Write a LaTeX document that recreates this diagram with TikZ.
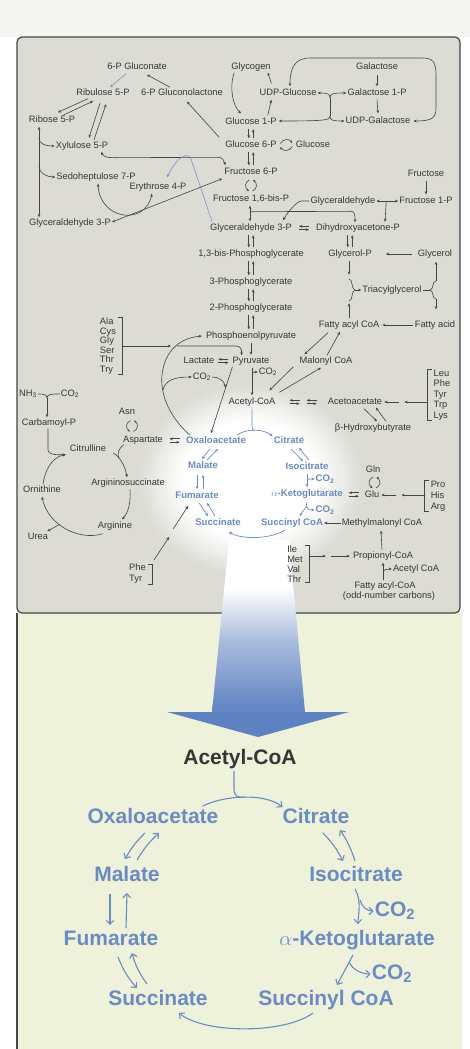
\documentclass[tikz,border=0pt]{standalone}
\usepackage{fontspec}
\setmainfont{Liberation Sans}
\usetikzlibrary{arrows.meta,calc}
\definecolor{panel}{HTML}{DCDCD5}
\definecolor{lowpanel}{HTML}{EEF2DB}
\definecolor{topband}{HTML}{F5F5F1}
\definecolor{txt}{HTML}{363636}
\definecolor{ln}{HTML}{454545}
\definecolor{tcablue}{HTML}{6C8BC3}
\definecolor{pentose}{HTML}{8A8CC4}
\definecolor{beamdark}{HTML}{6687C4}
\definecolor{arrowblue}{HTML}{5E81C1}
\colorlet{beammid}{beamdark!55!white}
\pgfdeclareradialshading{glowshade}{\pgfpoint{0bp}{0bp}}{color(0bp)=(white); color(15bp)=(white); color(25bp)=(panel); color(50bp)=(panel)}
\pgfdeclareverticalshading{beamshade}{100bp}{color(0bp)=(beamdark); color(27bp)=(beamdark); color(46bp)=(beammid); color(61bp)=(white); color(100bp)=(white)}

% pair of opposite vertical arrows between two stacked nodes
\newcommand\udpair[2]{%
  \draw[arr] ($(#2.north |- #1.south)+(-2.2,1.5)$) -- ($(#2.north)+(-2.2,-1)$);
  \draw[arr] ($(#2.north)+(2.2,-1)$) -- ($(#2.north |- #1.south)+(2.2,1.5)$);}
% pair of opposite horizontal arrows around a named coordinate
\newcommand\harpat[1]{%
  \draw[arr] ($(#1)+(5,-1.7)$) -- ($(#1)+(-5,-1.7)$);
  \draw[arr] ($(#1)+(-5,1.7)$) -- ($(#1)+(5,1.7)$);}
% curled reversible arrows, vertical and horizontal
\newcommand\vcurly[1]{%
  \draw[arrc] ($(#1)+(-1.5,-5.5)$) .. controls ($(#1)+(-6.5,-3)$) and ($(#1)+(-6.5,2)$) .. ($(#1)+(-2,5.5)$);
  \draw[arrc] ($(#1)+(1.5,5.5)$) .. controls ($(#1)+(6.5,3)$) and ($(#1)+(6.5,-2)$) .. ($(#1)+(2,-5.5)$);}
\newcommand\hcurly[1]{%
  \draw[arrc] ($(#1)+(-6,-1.5)$) .. controls ($(#1)+(-3,-6.5)$) and ($(#1)+(3,-6.5)$) .. ($(#1)+(6,-2)$);
  \draw[arrc] ($(#1)+(6,1.5)$) .. controls ($(#1)+(3,6.5)$) and ($(#1)+(-3,6.5)$) .. ($(#1)+(-6,2)$);}

\begin{document}
\begin{tikzpicture}[x=1pt,y=-1pt,
  lbl/.style={font=\fontsize{9.3}{10}\selectfont, text=txt, inner sep=1pt, text height=7pt, text depth=2pt},
  lst/.style={font=\fontsize{9.3}{#1}\selectfont, text=txt, inner sep=1pt, align=left},
  tcat/.style={font=\bfseries\fontsize{9.6}{11}\selectfont, text=tcablue, inner sep=1pt, text height=7.2pt, text depth=2.2pt},
  tcab/.style={font=\bfseries\fontsize{21}{24}\selectfont, text=tcablue, inner sep=1pt, text height=15pt, text depth=4.5pt},
  bigk/.style={tcab, text=txt},
  ln0/.style={draw=ln, line width=0.62pt},
  arr/.style={ln0, -{Stealth[length=3.2pt,width=2.8pt]}},
  dbl/.style={ln0, {Stealth[length=3.2pt,width=2.8pt]}-{Stealth[length=3.2pt,width=2.8pt]}},
  arrc/.style={ln0, -{Stealth[length=2.6pt,width=2.4pt]}},
  tln/.style={draw=tcablue, line width=0.68pt},
  tarr/.style={tln, -{Stealth[length=3.2pt,width=2.8pt]}},
  bln/.style={draw=tcablue, line width=1.1pt},
  barr/.style={bln, -{Straight Barb[length=4pt,width=7.5pt]}}]
\useasboundingbox (0,0) rectangle (470,1049);

% ---------- backgrounds ----------
\fill[white] (0,0) rectangle (470,1049);
\fill[topband] (0,0) rectangle (470,37);
\fill[lowpanel] (17,612) rectangle (462,1049);
\filldraw[fill=panel, draw=ln, line width=1.2pt, rounded corners=5pt] (17,37) rectangle (460,613);
\draw[ln, line width=1.2pt] (17,613) -- (17,1049);
\shade[shading=glowshade] (250,480) ellipse [x radius=112pt, y radius=96pt];
\shade[shading=beamshade] (229,540) -- (289,540) -- (305,712) -- (212,712) -- cycle;
\fill[arrowblue] (167,712) -- (349,712) -- (258,737) -- cycle;

% ---------- metabolites ----------
\node[lbl] (gluconate) at (137,67) {6-P Gluconate};
\node[lbl] (ribulose) at (103,93) {Ribulose 5-P};
\node[lbl] (lactone) at (182,93) {6-P Gluconolactone};
\node[lbl] (ribose) at (52,120) {Ribose 5-P};
\node[lbl] (xylulose) at (82,146) {Xylulose 5-P};
\node[lbl] (sedo) at (96,177) {Sedoheptulose 7-P};
\node[lbl] (erythrose) at (158,187) {Erythrose 4-P};
\node[lbl] (ga3pL) at (70,223) {Glyceraldehyde 3-P};
\node[lbl] (glycogen) at (251,67) {Glycogen};
\node[lbl] (udpglc) at (288,93) {UDP-Glucose};
\node[lbl] (galactose) at (377,67) {Galactose};
\node[lbl] (gal1p) at (377,93) {Galactose 1-P};
\node[lbl] (g1p) at (251,122) {Glucose 1-P};
\node[lbl] (udpgal) at (378,121) {UDP-Galactose};
\node[lbl] (g6p) at (251,145) {Glucose 6-P};
\node[lbl] (glucose) at (313,145) {Glucose};
\node[lbl] (f6p) at (251,172) {Fructose 6-P};
\node[lbl] (f16bp) at (251,199) {Fructose 1,6-bis-P};
\node[lbl] (glyald) at (343,201) {Glyceraldehyde};
\node[lbl] (f1p) at (426,201) {Fructose 1-P};
\node[lbl] (fructose) at (426,174) {Fructose};
\node[lbl] (ga3p) at (251,228) {Glyceraldehyde 3-P};
\node[lbl] (dhap) at (358,228) {Dihydroxyacetone-P};
\node[lbl] (bpg) at (251,254) {1,3-bis-Phosphoglycerate};
\node[lbl] (glycp) at (350,254) {Glycerol-P};
\node[lbl] (glycerol) at (435,254) {Glycerol};
\node[lbl] (pg3) at (251,282) {3-Phosphoglycerate};
\node[lbl] (tag) at (392,290) {Triacylglycerol};
\node[lbl] (pg2) at (251,308) {2-Phosphoglycerate};
\node[lbl] (pep) at (251,336) {Phosphoenolpyruvate};
\node[lbl] (facoa) at (349,325) {Fatty acyl CoA};
\node[lbl] (fa) at (435,325) {Fatty acid};
\node[lbl] (pyr) at (251,361) {Pyruvate};
\node[lbl] (lac) at (199,361) {Lactate};
\node[lbl] (malcoa) at (326,361) {Malonyl CoA};
\node[lbl] (co2a) at (268,372) {CO\textsubscript{2}};
\node[lbl] (co2b) at (202,377) {CO\textsubscript{2}};
\node[lbl] (accoa) at (252,402) {Acetyl-CoA};
\node[lbl] (acac) at (355,402) {Acetoacetate};
\node[lbl] (bhb) at (373,428) {β-Hydroxybutyrate};
\node[lst={10.5}] (ketaa) at (442,395) {Leu\\Phe\\Tyr\\Trp\\Lys};
\node[lst={9.6}] (aa2) at (108,346) {Ala\\Cys\\Gly\\Ser\\Thr\\Try};
\node[lbl] (nh3) at (28,394) {NH\textsubscript{3}};
\node[lbl] (co2u) at (70,394) {CO\textsubscript{2}};
\node[lbl] (carbp) at (49,423) {Carbamoyl-P};
\node[lbl] (asn) at (127,412) {Asn};
\node[lbl] (asp) at (143,440) {Aspartate};
\node[lbl] (citrul) at (88,449) {Citrulline};
\node[lbl] (argsuc) at (128,483) {Argininosuccinate};
\node[lbl] (orn) at (42,490) {Ornithine};
\node[lbl] (arg) at (115,526) {Arginine};
\node[lbl] (urea) at (38,537) {Urea};
\node[lst={11}] (phetyr) at (137.5,574) {Phe\\Tyr};
\node[tcat] (oaa) at (216,441) {Oxaloacetate};
\node[tcat] (cit) at (289,441) {Citrate};
\node[tcat] (mal) at (203,466) {Malate};
\node[tcat] (icit) at (307,467) {Isocitrate};
\node[tcat] (fum) at (197,496) {Fumarate};
\node[tcat] (akg) at (307,494) {$\alpha$-Ketoglutarate};
\node[tcat] (suc) at (218,523) {Succinate};
\node[tcat] (succoa) at (292,523) {Succinyl CoA};
\node[tcat] (co2c) at (325,479) {CO\textsubscript{2}};
\node[tcat] (co2d) at (325,510) {CO\textsubscript{2}};
\node[lbl] (gln) at (373,470) {Gln};
\node[lbl] (glu) at (372,495) {Glu};
\node[lst={11}] (proaa) at (438,496) {Pro\\His\\Arg};
\node[lbl] (mmcoa) at (382,523) {Methylmalonyl CoA};
\node[lst={10}] (ileaa) at (295,564) {Ile\\Met\\Val\\Thr};
\node[lbl] (propcoa) at (383,556) {Propionyl-CoA};
\node[lbl] (accoa2) at (416,569) {Acetyl CoA};
\node[lbl] (facoa2) at (385,586) {Fatty acyl-CoA};
\node[lbl] (odd) at (389,596) {(odd-number carbons)};

% citric acid cycle, enlarged
\node[bigk] (bacc) at (240,759) {Acetyl-CoA};
\node[tcab] (boaa) at (153,818) {Oxaloacetate};
\node[tcab] (bcit) at (316,818) {Citrate};
\node[tcab] (bmal) at (127,876) {Malate};
\node[tcab] (bicit) at (356,876) {Isocitrate};
\node[tcab] (bfum) at (111,940) {Fumarate};
\node[tcab] (bakg) at (357,940) {$\alpha$-Ketoglutarate};
\node[tcab] (bsuc) at (158,1000) {Succinate};
\node[tcab] (bsca) at (326,1000) {Succinyl CoA};
\node[tcab] (bco2a) at (395,911) {CO\textsubscript{2}};
\node[tcab] (bco2b) at (392,974) {CO\textsubscript{2}};

% ---------- pentose phosphate pathway ----------
\draw[arr, draw=pentose] ($(gluconate.south)+(-11,1)$) -- ($(ribulose.north)+(7,0)$);
\draw[arr] ($(lactone.north)+(-12,0)$) -- ($(gluconate.south)+(10,2)$);
\draw[arr] ($(g6p.north west)+(-5,-2)$) -- ($(lactone.south)+(5,3)$);
\draw[arr] ($(ribulose.south)+(-15,0)$) -- ($(ribose.north)+(6,-2)$);
\draw[arr] ($(ribose.north)+(11,1)$) -- ($(ribulose.south)+(-10,2.5)$);
\draw[arr] ($(ribulose.south)+(-3,4.5)$) -- ($(xylulose.north)+(7,-2.5)$);
\draw[arr] ($(xylulose.north)+(12,-0.5)$) -- ($(ribulose.south)+(3,5.5)$);
\draw[dbl] ($(ribose.south)+(-13,1)$) -- ($(ga3pL.north)+(-31,0)$);
\draw[arr] ($(ribose.south)+(-13,12)$) .. controls ($(ribose.south)+(-13,19)$) and ($(xylulose.west)+(-8,0)$) .. (xylulose.west);
\draw[arr] ($(ribose.south)+(-13,40)$) .. controls ($(ribose.south)+(-13,48)$) and ($(sedo.west)+(-8,0)$) .. (sedo.west);
\draw[dbl] ($(xylulose.south east)+(-8,0)$) .. controls ($(xylulose.south east)+(-6,5)$) and ($(xylulose.south east)+(-2,6)$) .. ($(xylulose.south east)+(5,6)$) -- ($(f6p.north west)+(-5,-9)$) .. controls ($(f6p.north west)+(-1,-9)$) and ($(f6p.north west)+(1,-6)$) .. ($(f6p.north west)+(2,-1)$);
\draw[arr, draw=pentose] ($(ga3p.north west)+(3,-1)$) -- (191,159) .. controls (188,152) and (178,155) .. ($(erythrose.north)+(9,-4)$);
\draw[dbl] ($(sedo.south)+(2,1)$) .. controls (100,220) and (145,226) .. ($(erythrose.south)+(-6,1)$);
\draw[dbl] ($(ga3pL.east)+(0,-1)$) -- ($(f6p.south west)+(-1,1)$);

% ---------- glycogen and galactose ----------
\draw[arr] ($(glycogen.south west)+(4,0)$) .. controls (229,88) and (233,106) .. ($(g1p.north)+(-10,-3)$);
\draw[arr] ($(udpglc.north west)+(13,-4)$) -- ($(glycogen.south east)+(-4,0)$);
\draw[arr] ($(g1p.north east)+(-10,-1)$) -- ($(udpglc.south west)+(13,1)$);
\draw[arr] ($(galactose.south)+(0,2)$) -- ($(gal1p.north)+(0,-1)$);
\draw[arr] ($(gal1p.south)+(0,1)$) -- ($(udpgal.north)+(0,-2)$);
\coordinate (jt) at (330,98);
\coordinate (jb) at (330,116);
\draw[ln0] (jt) -- (jb);
\draw[arr] (jt) .. controls (330,94) and (328,93) .. (udpglc.east);
\draw[arr] (jt) .. controls (330,94) and (332,93) .. (gal1p.west);
\draw[arr] (jb) .. controls (330,120) and (328,121) .. ($(g1p.east)+(1,-1)$);
\draw[arr] (jb) .. controls (330,120) and (332,121) .. (udpgal.west);
\draw[dbl] ($(udpglc.north)+(2,-1)$) .. controls ($(udpglc.north)+(2,-20)$) and (295,58) .. (310,58) -- (422,58) .. controls (433,58) and (436,62) .. (436,75) -- (436,108) .. controls (436,118) and (432,121) .. ($(udpgal.east)+(2,0)$);

% ---------- glycolysis ----------
\udpair{g1p}{g6p}
\coordinate (c1) at ($(g6p.east)!0.5!(glucose.west)$);
\hcurly{c1}
\udpair{g6p}{f6p}
\coordinate (c2) at ($(f6p.south)!0.5!(f16bp.north)$);
\vcurly{c2}
\draw[dbl] ($(f16bp.south)+(-1,1)$) -- ($(ga3p.north)+(-1,-1)$);
\draw[arr] ($(f16bp.south)+(0,7)$) -- ($(dhap.north)+(-7,-11)$) .. controls ($(dhap.north)+(-4,-11)$) and ($(dhap.north)+(-3,-9)$) .. ($(dhap.north)+(-3,0)$);
\draw[arr] (glyald.west) -- ($(glyald.west)+(-8,0)$) .. controls ($(glyald.west)+(-13,0)$) and ($(ga3p.north east)+(-6,-9)$) .. ($(ga3p.north east)+(-10,-2)$);
\draw[dbl] (glyald.east) -- (f1p.west);
\draw[arr] ($(glyald.east)!0.45!(f1p.west)$) -- ($(dhap.north)+(27,-0.5)$);
\draw[arr] ($(fructose.south)+(0,1)$) -- ($(f1p.north)+(0,-1)$);
\coordinate (h1) at ($(ga3p.east)!0.5!(dhap.west)$);
\harpat{h1}
\udpair{ga3p}{bpg}
\udpair{bpg}{pg3}
\udpair{pg3}{pg2}
\udpair{pg2}{pep}
\udpair{dhap}{glycp}

% ---------- glycerol and fatty acids ----------
\draw[arr] ($(glycerol.west)+(-5,0)$) -- ($(glycp.east)+(13,0)$);
\draw[arr] ($(glycp.south)+(-1,1)$) -- ($(glycp.south)+(-1,15)$);
\draw[ln0] (349,279) .. controls (353,279) and (351,289) .. (355,290) .. controls (351,291) and (353,301) .. (349,301);
\draw[arr] (355,290) -- (tag.west);
\draw[arr] ($(facoa.north)+(0,-1)$) -- ($(facoa.north)+(0,-16)$);
\draw[ln0] (tag.east) -- (430,290);
\draw[ln0] (436,281) .. controls (432,281) and (434,289) .. (430,290) .. controls (434,291) and (432,299) .. (436,299);
\draw[arr] (436,281) -- ($(glycerol.south)+(1,2)$);
\draw[arr] (436,299) -- ($(fa.north)+(1,-10)$);
\draw[arr] ($(fa.west)+(-1,0)$) -- ($(facoa.east)+(2,0)$);
\draw[arr] ($(facoa.south)+(-21,2)$) -- ($(malcoa.north west)+(6,-1)$);
\draw[arr] ($(malcoa.south west)+(-5,0)$) -- ($(accoa.north east)+(-7,-6)$);
\draw[arr] ($(accoa.north east)+(3,-4)$) -- ($(malcoa.south)+(-5,1)$);
\draw[arr] ($(malcoa.north)+(1,0)$) -- ($(facoa.south)+(-9,1)$);

% ---------- pyruvate ----------
\draw[arr] ($(pep.south)+(0,1.5)$) -- ($(pyr.north)+(0,-0.5)$);
\draw[arr] ($(pyr.south)+(1,1)$) -- ($(accoa.north)+(0,-1)$);
\draw[arr] ($(pyr.south)+(1,4)$) .. controls ($(pyr.south)+(1,7)$) and ($(co2a.west)+(-4,0)$) .. (co2a.west);
\coordinate (h2) at ($(lac.east)!0.5!(pyr.west)$);
\harpat{h2}
\draw[arr] ($(oaa.north west)+(5,0)$) .. controls (168,416) and (158,390) .. (163,369) .. controls (167,350) and (180,338) .. ($(pep.west)+(-3,0)$);
\draw[ln0] ($(aa2.north east)+(1,1)$) -- ++(4,0) |- ($(aa2.south east)+(1,-1)$);
\coordinate (alaend) at (171,346);
\coordinate (alast) at (177,346);
\draw[arr] ($(aa2.east)+(5,0)$) -- (alaend);
\draw[arr] (alast) -- (236,346) .. controls (240,346) and (242,349) .. ($(pyr.north west)+(10,0)$);
\coordinate (lp) at (163,390);
\draw[arr] (lp) .. controls (165,380) and (175,377) .. (co2b.west);
\draw[arr] ($(pyr.south west)+(1,0)$) -- ($(oaa.north)+(-5,-2)$);
\coordinate (pc) at (225.5,387.5);
\draw[arr] (co2b.east) .. controls (218,377) and (224,380) .. (pc);

% ---------- ketone bodies ----------
\coordinate (h3) at ($(accoa.east)!0.36!(acac.west)$);
\coordinate (h4) at ($(accoa.east)!0.70!(acac.west)$);
\harpat{h3}
\harpat{h4}
\draw[arr] ($(acac.south)+(9,1)$) -- ($(bhb.north)+(4,-1)$);
\draw[arr] ($(bhb.north)+(13,-1)$) -- ($(acac.south)+(21,0)$);
\draw[ln0] ($(ketaa.north west)+(-1,1)$) -- ++(-4,0) |- ($(ketaa.south west)+(-1,-1)$);
\draw[arr] ($(ketaa.west |- acac.east)+(-5,0)$) -- ($(acac.east)+(21,0)$);
\draw[arr] ($(acac.east)+(16,0)$) -- ($(acac.east)+(1,0)$);

% ---------- urea cycle ----------
\coordinate (yj) at (47,398);
\draw[ln0] (nh3.east) .. controls (42,394) and (47,394) .. (yj);
\draw[ln0] (co2u.west) .. controls (52,394) and (47,394) .. (yj);
\draw[arr] (yj) -- ($(carbp.north)+(-2,0)$);
\draw[arr] ($(carbp.south)+(-1,0)$) -- ($(carbp.south)+(-1,21)$) .. controls ($(carbp.south)+(-1,27)$) and ($(citrul.south west)+(-8,0)$) .. ($(citrul.south west)+(-3,0)$);
\draw[arr] ($(orn.north)+(1,0)$) .. controls (45,470) and (52,457) .. ($(citrul.south west)+(-3,0)$);
\draw[arr] ($(citrul.east)+(6,4)$) .. controls (119,456) and (125,465) .. ($(argsuc.north)+(-1,0)$);
\coordinate (aj) at (119,458.5);
\draw[ln0] ($(asp.south west)+(2,-1)$) .. controls (118,449) and (117,454) .. (aj);
\draw[arr] ($(argsuc.south)+(2,1)$) .. controls (131,503) and (128,513) .. ($(arg.north)+(7,-1)$);
\draw[arr] ($(arg.south west)+(6,2)$) .. controls (80,541) and (48,526) .. ($(orn.south)+(0,1)$);
\coordinate (ub) at (59.5,524.4);
\draw[arr] (ub) -- ($(urea.north east)+(-2,0)$);
\coordinate (c3) at ($(asn.south)!0.5!(asp.north)+(-3,0)$);
\vcurly{c3}
\coordinate (h5) at ($(asp.east)!0.5!(oaa.west)$);
\harpat{h5}

% ---------- amino acids into the cycle ----------
\draw[ln0] ($(phetyr.north east)+(1,1)$) -- ++(4,0) |- ($(phetyr.south east)+(1,-1)$);
\draw[arr] ($(phetyr.north east)+(7,-3)$) -- ($(fum.south west)+(-5,35)$);
\draw[arr] ($(fum.south west)+(-1,27)$) -- ($(fum.south west)+(14,4)$);
\coordinate (c4) at ($(gln.south)!0.5!(glu.north)+(2,0)$);
\vcurly{c4}
\coordinate (h6) at ($(akg.east)!0.5!(glu.west)$);
\harpat{h6}
\draw[ln0] ($(proaa.north west)+(-1,1)$) -- ++(-4,0) |- ($(proaa.south west)+(-1,-1)$);
\draw[arr] ($(proaa.west |- glu.east)+(-5,0)$) -- ($(glu.east)+(21,0)$);
\draw[arr] ($(glu.east)+(16,0)$) -- ($(glu.east)+(1,0)$);
\draw[arr] (mmcoa.west) -- (succoa.east);
\draw[arr] ($(propcoa.north)+(-1,-1)$) -- ($(mmcoa.south)+(-1,2)$);
\draw[arr] ($(facoa2.north)+(-2,0)$) -- ($(propcoa.south)+(0,1)$);
\draw[arr] ($(facoa2.north)+(-2,-7)$) .. controls ($(facoa2.north)+(-2,-11)$) and ($(accoa2.west)+(-5,0)$) .. (accoa2.west);
\draw[ln0] ($(ileaa.north east)+(1,1)$) -- ++(4,0) |- ($(ileaa.south east)+(1,-1)$);
\draw[arr] ($(ileaa.east |- propcoa.west)+(5,0)$) -- ($(propcoa.west)+(-26,0)$);
\draw[arr] ($(propcoa.west)+(-21,0)$) -- ($(propcoa.west)+(-2,0)$);

% ---------- citric acid cycle (map) ----------
\coordinate (jtop) at (254,430.3);
\draw[tln] ($(accoa.south)+(0,1)$) -- ($(accoa.south)+(0,17)$) .. controls ($(accoa.south)+(0,21)$) and ($(accoa.south)+(1,22.5)$) .. (jtop);
\draw[tarr] ($(oaa.north east)+(-10,0)$) .. controls (245,429) and (262,428) .. ($(cit.north west)+(0,1)$);
\draw[tarr] ($(oaa.south)+(-6,2)$) -- ($(mal.north)+(-1,-1)$);
\draw[tarr] ($(mal.north)+(4,0)$) -- ($(oaa.south)+(2,2)$);
\draw[tarr] ($(mal.south)+(-6,3)$) -- ($(fum.north)+(0,-1)$);
\draw[tarr] ($(fum.north)+(6,-1)$) -- ($(mal.south)+(0,3)$);
\draw[tarr] ($(fum.south)+(2,1)$) -- ($(suc.north)+(-10,-1)$);
\draw[tarr] ($(suc.north)+(-3,-1)$) -- ($(fum.south)+(10,1)$);
\draw[tarr] ($(cit.south)+(2,2)$) -- ($(icit.north)+(-4,0)$);
\draw[tarr] ($(icit.north)+(2,-1)$) -- ($(cit.south)+(10,1)$);
\draw[tarr] ($(icit.south)+(0,1)$) -- ($(akg.north)+(0,-1)$);
\draw[tarr] ($(icit.south)+(0,5)$) .. controls ($(icit.south)+(0,7)$) and ($(co2c.west)+(-4,0)$) .. (co2c.west);
\draw[tarr] ($(akg.south)+(0,2)$) .. controls ($(akg.south)+(0,9)$) and ($(succoa.north)+(10,-6)$) .. ($(succoa.north)+(8,-1)$);
\draw[tarr] ($(akg.south)+(-0.5,7)$) .. controls ($(akg.south)+(1,10)$) and ($(co2d.west)+(-4,0)$) .. (co2d.west);
\draw[tarr] ($(succoa.south)+(-7,1)$) .. controls (272,539) and (242,540) .. ($(suc.south east)+(-13,3)$);

% ---------- citric acid cycle (enlarged) ----------
\coordinate (jbot) at (244.4,797.2);
\draw[bln] ($(bacc.south)+(-6,1)$) -- ($(bacc.south)+(-6,19)$) .. controls ($(bacc.south)+(-6,26)$) and ($(bacc.south)+(-2,28)$) .. (jbot);
\draw[barr] ($(boaa.north east)+(-17,-1)$) .. controls (225,795) and (265,793) .. ($(bcit.north west)+(1,0)$);
\draw[barr] ($(boaa.south)+(-8,4)$) to[bend right=8] ($(bmal.north)+(-2,-6)$);
\draw[barr] ($(bmal.north)+(10,-5)$) to[bend left=8] ($(boaa.south)+(6,4)$);
\draw[barr] ($(bmal.south)+(-17,7)$) -- ($(bfum.north)+(-1,-4)$);
\draw[barr] ($(bfum.north)+(15,-1)$) -- ($(bmal.south)+(0,6)$);
\draw[barr] ($(bfum.south)+(7,6)$) to[bend right=10] ($(bsuc.north)+(-21,-1)$);
\draw[barr] ($(bsuc.north)+(-11,-5)$) to[bend left=10] ($(bfum.south)+(21,2)$);
\draw[barr] ($(bsca.south)+(-13,2)$) .. controls (285,1034) and (205,1034) .. ($(bsuc.south east)+(-30,2)$);
\draw[barr] ($(bakg.south)+(-4,4)$) -- ($(bsca.north)+(11,-4)$);
\draw[barr] ($(bakg.south)+(-7.7,11)$) .. controls ($(bakg.south)+(-5,19)$) and ($(bco2b.west)+(-8,0)$) .. (bco2b.west);
\draw[barr] ($(bicit.south)+(-1,2)$) .. controls ($(bicit.south)+(6,14)$) and ($(bakg.north)+(1,-14)$) .. ($(bakg.north)+(1,-5)$);
\draw[barr] ($(bicit.south)+(4,13)$) .. controls ($(bicit.south)+(6,20)$) and ($(bco2a.west)+(-7,0)$) .. (bco2a.west);
\draw[barr] ($(bcit.south)+(7,4)$) to[bend left=8] ($(bicit.north)+(-13,-4)$);
\draw[barr] ($(bicit.north)+(-1,-4)$) to[bend right=8] ($(bcit.south)+(24,1)$);
\end{tikzpicture}
\end{document}
